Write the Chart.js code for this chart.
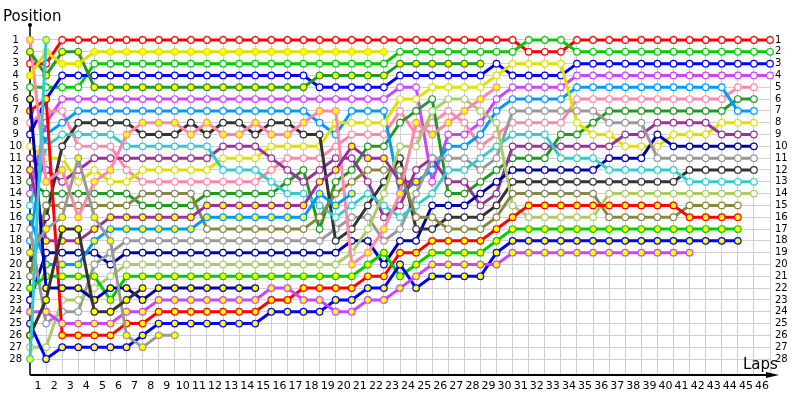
<!DOCTYPE html>
<html>
<head>
<meta charset="utf-8">
<script src="https://cdn.jsdelivr.net/npm/chart.js@4"></script>
<style>
  html, body { margin: 0; background: #fff; }
  #wrap { width: 800px; height: 400px; }
</style>
</head>
<body>
<div id="wrap"><canvas id="chart"></canvas></div>
<script>
// laps 0..46 on x, positions 1..28 on y
const LAPS = Array.from({ length: 47 }, (_, i) => String(i));
const POSITIONS = Array.from({ length: 28 }, (_, i) => i + 1);

// running position of each car, one value per lap (lap 0 = grid); array ends when the car stops
const RED_W = [3,3,1,1,1,1,1,1,1,1, 1,1,1,1,1,1,1,1,1,1, 1,1,1,1,1,1,1,1,1,1, 1,2,2,2,1,1,1,1,1,1, 1,1,1,1,1,1,1];
const YEL_Y = [4,2,3,3,2,2,2,2,2,2, 2,2,2,2,2,2,2,2,2,2, 2,2,2];
const GRN_W = [5,5,5,5,3,3,3,3,3,3, 3,3,3,3,3,3,3,3,3,3, 3,3,3,2,2,2,2,2,2,2, 2,1,1,1,2,2,2,2,2,2, 2,2,2,2,2,2,2];
const BLU_W = [9,6,4,4,4,4,4,4,4,4, 4,4,4,4,4,4,4,4,5,5, 5,5,5,4,4,4,4,4,4,3, 4,4,4,4,3,3,3,3,3,3, 3,3,3,3,3,3,3];
const DGR_Y = [2,4,2,2,5,5,5,5,5,5, 5,5,5,5,5,5,5,5,4,4, 4,4,4,3,3,3,3,3,3];
const VIO_W = [14,8,6,6,6,6,6,6,6,6, 6,6,6,6,6,6,6,6,6,6, 6,6,6,5,5,13,9,9,8,6, 5,5,5,5,4,4,4,4,4,4, 4,4,4,4,4,4,4];
const LBL_W = [18,9,8,7,7,7,7,7,7,7, 7,7,7,7,7,7,7,7,8,9, 7,7,7,14,13,12,10,10,9,7, 6,6,6,6,5,5,5,5,5,5, 5,5,5,5,7,7];
const DGY_W = [20,16,10,8,8,8,8,9,9,9, 8,9,8,8,9,8,8,9,9,18, 17,15,13,11,17,17,16,16,16,15, 13,13,13,13,13,13,13,13,13,13, 13,12,12,12,12,12];
const PNK_Y = [1,13,12,16,13,12,9,8,8,8, 9,8,9,9,8,9,9,8,7,7, 20,19,17,14,8,9,8,7,6,5];
const CYN_W = [15,10,9,9,9,9,10,10,10,10, 10,10,12,12,12,13,14,14,15,16, 15,14,15,16,15,14,12,12,11,10, 9,9,9,11,11,11,12,12,12,12, 12,13,13,13,13,13];
const PUR_W = [11,12,13,12,11,11,11,11,11,11, 11,11,10,10,10,11,12,13,12,11, 11,13,16,15,12,11,13,13,15,14, 10,10,10,10,10,10,10,9,9,8, 8,8,8,9,9,9];
const YEL_W = [10,11,11,13,12,13,13,12,12,12, 12,12,11,11,11,10,10,10,10,8, 8,8,8,6,6,5,5,5,5,4, 3,3,3,3,8,9,9,10,10,10, 9,9,9,8,8,8];
const PNK_W = [8,7,7,10,10,10,12,13,13,13, 13,13,13,13,13,12,11,11,11,10, 9,9,9,7,9,8,7,8,10,9, 8,8,8,8,6,6,6,6,6,6, 6,6,6,6,5,5];
const OLV_W = [21,15,15,15,15,15,15,14,14,14, 14,17,17,17,17,17,17,17,16,14, 13,12,12,12,16,16,17,17,17,16, 14,14,14,14,14,14,16,16,16,16, 16,15,15,15,15];
const DGR_W = [13,14,14,14,14,14,14,15,15,15, 15,14,14,14,14,14,13,12,17,13, 12,10,10,8,7,6,14,14,13,12, 11,11,11,9,9,8,7,7,7,7, 7,7,7,7,6,6];
const PUR_Y = [12,18,18,18,17,16,16,16,16,16, 16,15,15,15,15,15,15,15,13,12, 10,11,11,13,13];
const LBL_Y = [16,20,20,20,18,17,17,17,17,17, 17,16,16,16,16,16,16,16,14,15, 14];
const GRY_W = [17,25,24,24,20,19,18,18,18,18, 18,18,18,18,18,18,18,18,18,17, 16,16,18,17,14,11,11,11,12,11, 7,7,7,7,7,7,8,8,8,11, 11,11,11,11,11,11];
const NAV_W = [23,19,19,19,19,20,19,19,19,19, 19,19,19,19,19,19,19,19,19,19, 18,18,20,18,18,15,15,15,14,13, 12,12,12,12,12,12,11,11,11,9, 10,10,10,10,10,10];
const LGR_W = [27,27,23,23,22,21,20,20,20,20, 20,20,20,20,20,20,20,20,20,20, 19,17,14,10,10,7,6,6,7,8, 15,16,16,16,16,16,14,14,14,14, 14,14,14,14,14,14];
const GRN_Y = [22,21,21,21,21,23,21,21,21,21, 21,21,21,21,21,21,21,21,21,21, 21,20,19,21,20,19,19,19,19,18, 17,17,17,17,17,17,17,17,17,17, 17,17,17,17,17];
const NAV_Y = [6,22,22,22,23,22,22,23,22,22, 22,22,22,22,22];
const VIO_Y = [24,24,25,25,25,25,24,24,23,23, 23,23,23,23,23,22,22,23,23,24, 24,23,23,22,21,20,20,20,20,20, 19,19,19,19,19,19,19,19,19,19, 19,19];
const RED_Y = [7,6,26,26,26,26,25,25,24,24, 24,24,24,24,24,23,23,22,22,22, 22,21,21,19,19,18,18,18,18,17, 16,15,15,15,15,15,15,15,15,15, 15,16,16,16,16];
const BLU_Y = [25,28,27,27,27,27,27,26,25,25, 25,25,25,25,25,24,24,24,24,23, 23,22,22,20,22,21,21,21,21,19, 18,18,18,18,18,18,18,18,18,18, 18,18,18,18,18];
const GRY_Y = [19,17,16,11,16,18,26,27,26,26];
const DGY_Y = [26,23,17,17,24,24,23,22];
const CYN_Y = [28,1];

const C = {
  red: '#ff0000', yellow: '#e0e000', green: '#00cc00', darkGreen: '#229922',
  blue: '#0000ff', navy: '#0000aa', violet: '#cc44ff', lightBlue: '#0099ff',
  pink: '#ff88aa', darkGray: '#333333', cyan: '#33cccc', purple: '#993399',
  olive: '#888844', gray: '#999999', lightGreen: '#aacc66'
};
const WHITE = '#ffffff';
const YELLOW = '#ffff00';
const GRID = '#cfcfcf';
const FONT = 'DejaVu Sans';

// [data, line colour, point fill]
const CARS = [
  [RED_W, C.red, WHITE], [GRN_W, C.green, WHITE], [BLU_W, C.blue, WHITE], [VIO_W, C.violet, WHITE],
  [PNK_W, C.pink, WHITE], [DGR_W, C.darkGreen, WHITE], [LBL_W, C.lightBlue, WHITE], [YEL_W, C.yellow, WHITE],
  [PUR_W, C.purple, WHITE], [NAV_W, C.navy, WHITE], [GRY_W, C.gray, WHITE], [DGY_W, C.darkGray, WHITE],
  [CYN_W, C.cyan, WHITE], [LGR_W, C.lightGreen, WHITE], [OLV_W, C.olive, WHITE], [RED_Y, C.red, YELLOW],
  [GRN_Y, C.green, YELLOW], [BLU_Y, C.blue, YELLOW], [VIO_Y, C.violet, YELLOW], [PNK_Y, C.pink, YELLOW],
  [DGR_Y, C.darkGreen, YELLOW], [PUR_Y, C.purple, YELLOW], [YEL_Y, C.yellow, YELLOW], [LBL_Y, C.lightBlue, YELLOW],
  [NAV_Y, C.navy, YELLOW], [GRY_Y, C.gray, YELLOW], [DGY_Y, C.darkGray, YELLOW], [CYN_Y, C.cyan, YELLOW]
];

const datasets = CARS.slice().reverse().map(([data, color, fill]) => ({
  data,
  borderColor: color,
  backgroundColor: color,
  borderWidth: 3,
  pointRadius: 3.3,
  pointBorderWidth: 1.2,
  pointBorderColor: color,
  pointBackgroundColor: fill,
  tension: 0,
  clip: false,
}));

// y range chosen so position 1 sits at y=40 and 28 at y=359
const Y_MIN = 0.577;
const Y_MAX = 29.354;

const frame = {
  id: 'frame',
  beforeDatasetsDraw(chart) {
    const { ctx, chartArea: a } = chart;
    ctx.save();
    ctx.strokeStyle = '#000';
    ctx.fillStyle = '#000';
    ctx.lineWidth = 1.5;
    ctx.beginPath();
    ctx.moveTo(a.left, 25);
    ctx.lineTo(a.left, a.bottom);
    ctx.stroke();
    ctx.beginPath();
    ctx.arc(a.left, 25, 2, 0, Math.PI * 2);
    ctx.fill();
    ctx.lineWidth = 2;
    ctx.beginPath();
    ctx.moveTo(a.left, a.bottom);
    ctx.lineTo(767, a.bottom);
    ctx.stroke();
    ctx.beginPath();
    ctx.moveTo(766, a.bottom - 3);
    ctx.lineTo(779, a.bottom);
    ctx.lineTo(766, a.bottom + 3);
    ctx.closePath();
    ctx.fill();
    ctx.font = `15px "${FONT}"`;
    ctx.textBaseline = 'alphabetic';
    ctx.textAlign = 'left';
    ctx.fillText('Position', 3, 21);
    ctx.fillText('Laps', 743, 369);
    ctx.restore();
  }
};

new Chart(document.getElementById('chart'), {
  type: 'line',
  data: { labels: LAPS, datasets },
  options: {
    responsive: true,
    maintainAspectRatio: false,
    animation: false,
    events: [],
    layout: { padding: { top: 35, left: 0, right: 0, bottom: 0 } },
    plugins: { legend: { display: false }, tooltip: { enabled: false } },
    scales: {
      x: {
        type: 'category',
        offset: false,
        grid: { color: GRID, lineWidth: 1, drawTicks: false },
        border: { display: false },
        ticks: {
          autoSkip: false, maxRotation: 0, labelOffset: -8, padding: 5,
          color: '#000', font: { family: FONT, size: 11 },
          callback: (v, i) => (i === 0 ? '' : LAPS[i]),
        },
        afterFit: s => { s.height = 25; },
      },
      y: {
        type: 'linear', position: 'left', reverse: true, min: Y_MIN, max: Y_MAX,
        afterBuildTicks: s => { s.ticks = POSITIONS.map(v => ({ value: v })); },
        grid: { color: GRID, lineWidth: 1, drawTicks: false },
        border: { display: false },
        ticks: { autoSkip: false, padding: 8, crossAlign: 'center', color: '#000', font: { family: FONT, size: 10 } },
        afterFit: s => { s.width = 30; },
      },
      y2: {
        type: 'linear', position: 'right', reverse: true, min: Y_MIN, max: Y_MAX,
        afterBuildTicks: s => { s.ticks = POSITIONS.map(v => ({ value: v })); },
        grid: { display: false, drawTicks: false },
        border: { display: false },
        ticks: { autoSkip: false, padding: 5, crossAlign: 'near', color: '#000', font: { family: FONT, size: 10 } },
        afterFit: s => { s.width = 30; },
      },
    },
  },
  plugins: [frame],
});
</script>
</body>
</html>
